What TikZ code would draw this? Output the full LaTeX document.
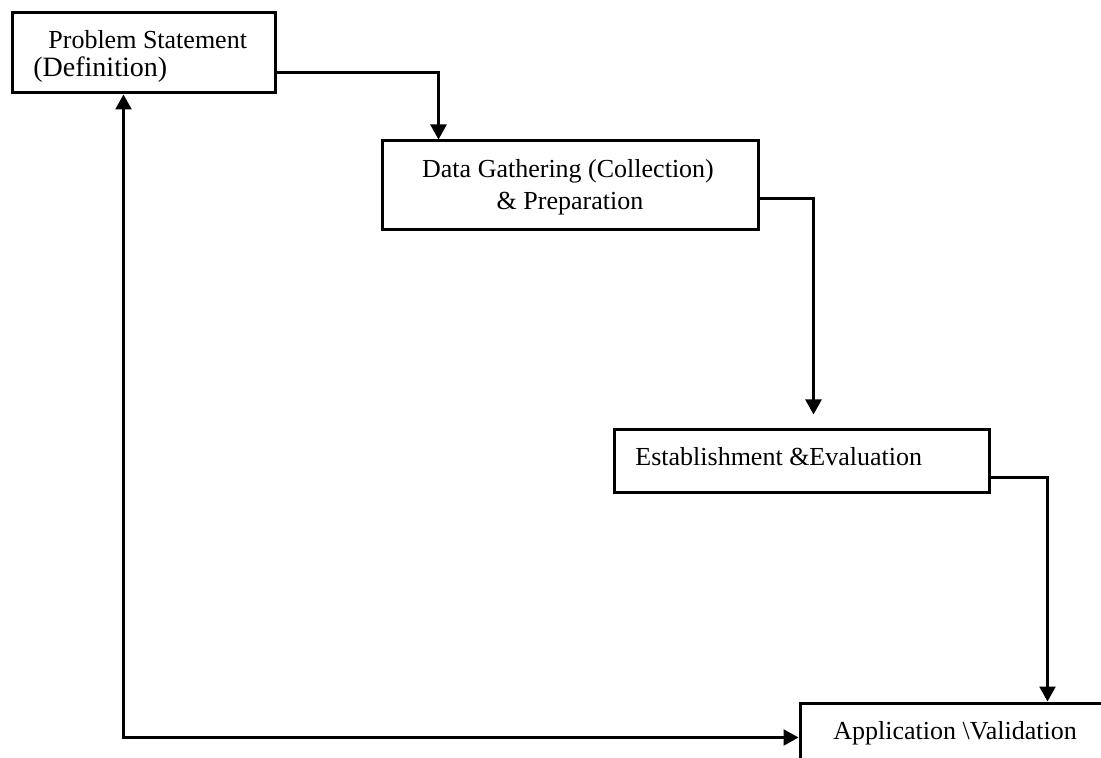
\documentclass[tikz,border=0pt]{standalone}
\usepackage{fontspec}
\setmainfont{Liberation Serif}
\usetikzlibrary{arrows.meta,fit}

\begin{document}
\begin{tikzpicture}[
  x=0.5pt, y=-0.5pt,
  stagebox/.style={draw=black, line width=1.5pt, fill=white, inner sep=0pt},
  label/.style={inner sep=0pt, anchor=base west, font=\fontsize{13}{15}\selectfont},
  flow/.style={draw=black, line width=1.25pt, -{Triangle[width=8pt,length=7.5pt]}},
  loop/.style={draw=black, line width=1.25pt,
    {Triangle[width=8pt,length=7.5pt]}-{Triangle[width=8pt,length=7.5pt]}}
]
  \useasboundingbox (0,0) rectangle (1101,758);
  \clip (0,0) rectangle (1101,758);

  % stage boxes
  \node[stagebox, fit={(12,13) (275,93)}]   (prob) {};
  \node[stagebox, fit={(382,141) (758,230)}] (data) {};
  \node[stagebox, fit={(614,429) (989,492)}] (est)  {};
  \node[stagebox, fit={(800,703) (1120,790)}] (app) {};

  % box texts
  \node[label] (probA) at (48,49) {Problem Statement};
  \node[label, font=\fontsize{14}{16}\selectfont] (probB) at (33,77) {(Definition)};
  \node[label, anchor=base] (dataA) at (568,178) {Data Gathering (Collection)};
  \node[label, anchor=base] (dataB) at (570,210) {\& Preparation};
  \node[label] (estA) at (635,465) {Establishment \&Evaluation};
  \node[label] (appA) at (833,739) {Application \textbackslash Validation};

  % forward flow
  \draw[flow] ([yshift=11pt]prob.south east) -| ([xshift=29pt]data.north west);
  \draw[flow] ([yshift=16.5pt]data.south east)
      -| ([xshift=100.5pt,yshift=6.5pt]est.north west);
  \draw[flow] ([yshift=8pt]est.south east) -| ([xshift=124.5pt]app.north west);

  % feedback loop from application back to the problem statement
  \draw[loop] ([xshift=56.5pt]prob.south west) |- ([yshift=-18pt]app.north west);
\end{tikzpicture}
\end{document}
